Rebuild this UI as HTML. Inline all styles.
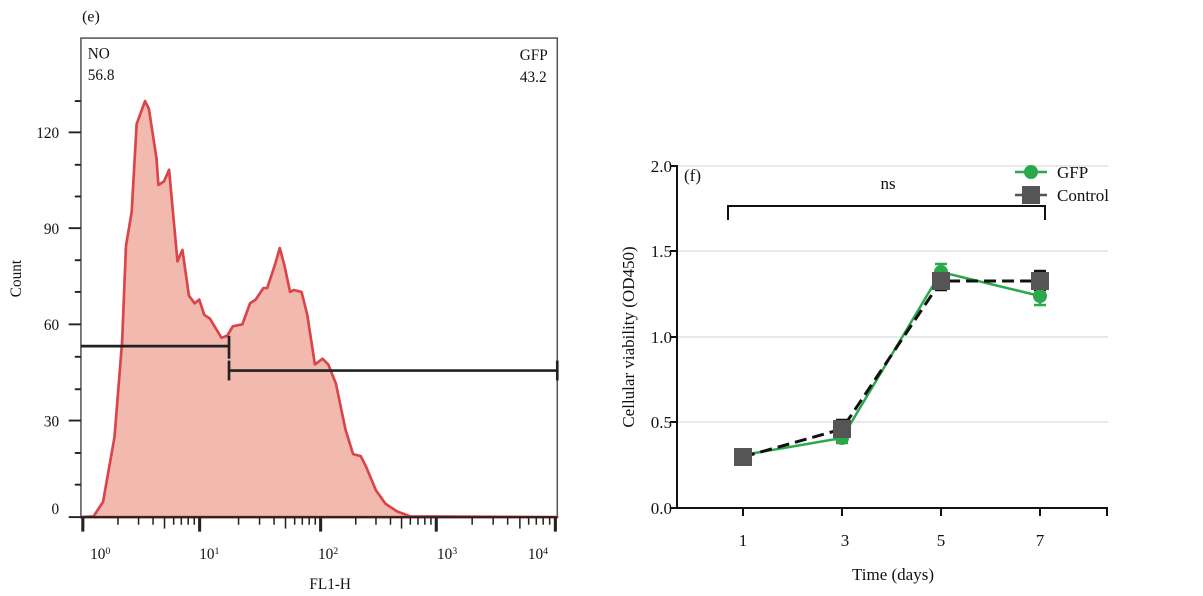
<!DOCTYPE html>
<html><head><style>body{margin:0;background:#fff}svg{display:block}text{font-family:"Liberation Serif",serif;fill:#111}</style></head>
<body>
<svg width="1203" height="596" viewBox="0 0 1203 596">
<rect width="1203" height="596" fill="#fff"/>
<g transform="translate(0,-2) scale(0.3817)">
<text x="215" y="62" font-size="42">(e)</text>
<rect x="212" y="105" width="1248" height="1255" fill="none" stroke="#555" stroke-width="4"/>
<path d="M212,1360 L245,1358 L270,1320 L300,1150 L320,900 L330,650 L345,560 L358,330 L380,270 L390,290 L410,420 L415,490 L430,480 L443,450 L465,690 L478,660 L495,780 L510,800 L522,790 L535,830 L550,840 L580,890 L595,885 L610,860 L635,855 L655,800 L670,790 L690,760 L700,760 L720,700 L733,655 L745,700 L760,770 L770,765 L790,770 L805,830 L825,960 L845,945 L860,960 L880,1010 L905,1130 L925,1195 L945,1200 L960,1230 L985,1290 L1010,1325 L1040,1345 L1075,1358 L1460,1360 Z" fill="#f2b9ae" stroke="#d9454a" stroke-width="7" stroke-linejoin="round"/>
<g stroke="#222" stroke-width="7">
<line x1="212" y1="912" x2="600" y2="912"/><line x1="600" y1="885" x2="600" y2="945"/>
<line x1="600" y1="976" x2="1460" y2="976"/><line x1="600" y1="950" x2="600" y2="1002"/><line x1="1460" y1="950" x2="1460" y2="1002"/>
</g>
<g stroke="#222" stroke-width="5">
<line x1="180" y1="352" x2="212" y2="352"/><line x1="180" y1="603" x2="212" y2="603"/><line x1="180" y1="855" x2="212" y2="855"/><line x1="180" y1="1107" x2="212" y2="1107"/><line x1="180" y1="1360" x2="212" y2="1360"/>
<line x1="196" y1="270" x2="212" y2="270"/><line x1="196" y1="437" x2="212" y2="437"/><line x1="196" y1="520" x2="212" y2="520"/><line x1="196" y1="687" x2="212" y2="687"/><line x1="196" y1="770" x2="212" y2="770"/><line x1="196" y1="940" x2="212" y2="940"/><line x1="196" y1="1025" x2="212" y2="1025"/><line x1="196" y1="1192" x2="212" y2="1192"/><line x1="196" y1="1275" x2="212" y2="1275"/>
<line x1="212" y1="1360" x2="1460" y2="1360"/>
<line x1="217" y1="1360" x2="217" y2="1398" stroke-width="8"/><line x1="523" y1="1360" x2="523" y2="1398" stroke-width="8"/><line x1="840" y1="1360" x2="840" y2="1398" stroke-width="8"/><line x1="1143" y1="1360" x2="1143" y2="1398" stroke-width="8"/><line x1="1455" y1="1360" x2="1455" y2="1398" stroke-width="8"/>
<g stroke-width="4">
<line x1="309" y1="1360" x2="309" y2="1380"/><line x1="363" y1="1360" x2="363" y2="1380"/><line x1="401" y1="1360" x2="401" y2="1380"/><line x1="431" y1="1360" x2="431" y2="1390"/><line x1="455" y1="1360" x2="455" y2="1380"/><line x1="475" y1="1360" x2="475" y2="1380"/><line x1="493" y1="1360" x2="493" y2="1380"/><line x1="509" y1="1360" x2="509" y2="1380"/>
<line x1="625" y1="1360" x2="625" y2="1380"/><line x1="680" y1="1360" x2="680" y2="1380"/><line x1="718" y1="1360" x2="718" y2="1380"/><line x1="748" y1="1360" x2="748" y2="1390"/><line x1="772" y1="1360" x2="772" y2="1380"/><line x1="792" y1="1360" x2="792" y2="1380"/><line x1="810" y1="1360" x2="810" y2="1380"/><line x1="826" y1="1360" x2="826" y2="1380"/>
<line x1="932" y1="1360" x2="932" y2="1380"/><line x1="985" y1="1360" x2="985" y2="1380"/><line x1="1023" y1="1360" x2="1023" y2="1380"/><line x1="1052" y1="1360" x2="1052" y2="1390"/><line x1="1075" y1="1360" x2="1075" y2="1380"/><line x1="1095" y1="1360" x2="1095" y2="1380"/><line x1="1113" y1="1360" x2="1113" y2="1380"/><line x1="1129" y1="1360" x2="1129" y2="1380"/>
<line x1="1237" y1="1360" x2="1237" y2="1380"/><line x1="1292" y1="1360" x2="1292" y2="1380"/><line x1="1330" y1="1360" x2="1330" y2="1380"/><line x1="1362" y1="1360" x2="1362" y2="1390"/><line x1="1385" y1="1360" x2="1385" y2="1380"/><line x1="1405" y1="1360" x2="1405" y2="1380"/><line x1="1423" y1="1360" x2="1423" y2="1380"/><line x1="1440" y1="1360" x2="1440" y2="1380"/>
</g></g>
<g font-size="40" text-anchor="end">
<text x="155" y="367">120</text><text x="155" y="618">90</text><text x="155" y="870">60</text><text x="155" y="1122">30</text><text x="155" y="1352">0</text>
</g>
<text x="230" y="158" font-size="40">NO</text><text x="230" y="215" font-size="40">56.8</text>
<text x="1435" y="162" font-size="40" text-anchor="end">GFP</text><text x="1432" y="220" font-size="40" text-anchor="end">43.2</text>
<text transform="translate(55,735) rotate(-90)" font-size="40" text-anchor="middle">Count</text>
<text x="865" y="1548" font-size="40" text-anchor="middle">FL1-H</text>
<g font-size="40"><text x="236" y="1470">10<tspan dy="-14" font-size="26">0</tspan></text><text x="522" y="1470">10<tspan dy="-14" font-size="26">1</tspan></text><text x="833" y="1470">10<tspan dy="-14" font-size="26">2</tspan></text><text x="1145" y="1470">10<tspan dy="-14" font-size="26">3</tspan></text><text x="1383" y="1470">10<tspan dy="-14" font-size="26">4</tspan></text></g>
</g>

<g stroke="#e2e2e2" stroke-width="1.5"><line x1="678" y1="166" x2="1108" y2="166"/><line x1="678" y1="251" x2="1108" y2="251"/><line x1="678" y1="337" x2="1108" y2="337"/><line x1="678" y1="422" x2="1108" y2="422"/></g>
<g stroke="#111" stroke-width="2">
<line x1="677" y1="165" x2="677" y2="509"/><line x1="676" y1="508" x2="1108" y2="508"/>
<line x1="670" y1="166" x2="677" y2="166"/><line x1="670" y1="251" x2="677" y2="251"/><line x1="670" y1="337" x2="677" y2="337"/><line x1="670" y1="422" x2="677" y2="422"/><line x1="670" y1="508" x2="677" y2="508"/>
<line x1="743" y1="508" x2="743" y2="516"/><line x1="842" y1="508" x2="842" y2="516"/><line x1="941" y1="508" x2="941" y2="516"/><line x1="1040" y1="508" x2="1040" y2="516"/><line x1="1107" y1="508" x2="1107" y2="516"/>
<polyline points="728,220 728,206 1045,206 1045,220" fill="none"/>
</g>
<g font-size="17" text-anchor="end"><text x="672" y="172">2.0</text><text x="672" y="257">1.5</text><text x="672" y="343">1.0</text><text x="672" y="428">0.5</text><text x="672" y="514">0.0</text></g>
<g font-size="17" text-anchor="middle"><text x="743" y="546">1</text><text x="845" y="546">3</text><text x="941" y="546">5</text><text x="1040" y="546">7</text></g>
<text x="893" y="580" font-size="17" text-anchor="middle">Time (days)</text>
<text transform="translate(634,337) rotate(-90)" font-size="17" text-anchor="middle">Cellular viability (OD450)</text>
<text x="684" y="181" font-size="17">(f)</text>
<text x="888" y="189" font-size="17" text-anchor="middle">ns</text>
<g stroke="#2aa84a" stroke-width="2.5"><line x1="836" y1="443" x2="848" y2="443"/><line x1="935" y1="264" x2="947" y2="264"/><line x1="941" y1="264" x2="941" y2="280"/><line x1="1034" y1="305" x2="1046" y2="305"/><line x1="1040" y1="296" x2="1040" y2="305"/></g>
<g stroke="#111" stroke-width="2.5"><line x1="836" y1="420" x2="848" y2="420"/><line x1="935" y1="290" x2="947" y2="290"/><line x1="1034" y1="271" x2="1046" y2="271"/><line x1="1034" y1="290" x2="1046" y2="290"/></g>
<polyline points="743,455 842,438 941,272 1040,296" fill="none" stroke="#2aa84a" stroke-width="2.5"/>
<polyline points="743,457 842,429 941,281 1040,281" fill="none" stroke="#111" stroke-width="3" stroke-dasharray="12,6"/>
<g fill="#2aa84a"><circle cx="743" cy="455" r="7"/><circle cx="842" cy="438" r="7"/><circle cx="941" cy="272" r="7"/><circle cx="1040" cy="296" r="7"/></g>
<g fill="#555"><rect x="734" y="448" width="18" height="18"/><rect x="833" y="420" width="18" height="18"/><rect x="932" y="272" width="18" height="18"/><rect x="1031" y="272" width="18" height="18"/></g>
<line x1="1015" y1="172" x2="1047" y2="172" stroke="#2aa84a" stroke-width="2.5"/><circle cx="1031" cy="172" r="7" fill="#2aa84a"/>
<line x1="1015" y1="195" x2="1047" y2="195" stroke="#555" stroke-width="2.5"/><rect x="1022" y="186" width="18" height="18" fill="#555"/>
<text x="1057" y="178" font-size="17">GFP</text><text x="1057" y="201" font-size="17">Control</text>
</svg>
</body></html>
